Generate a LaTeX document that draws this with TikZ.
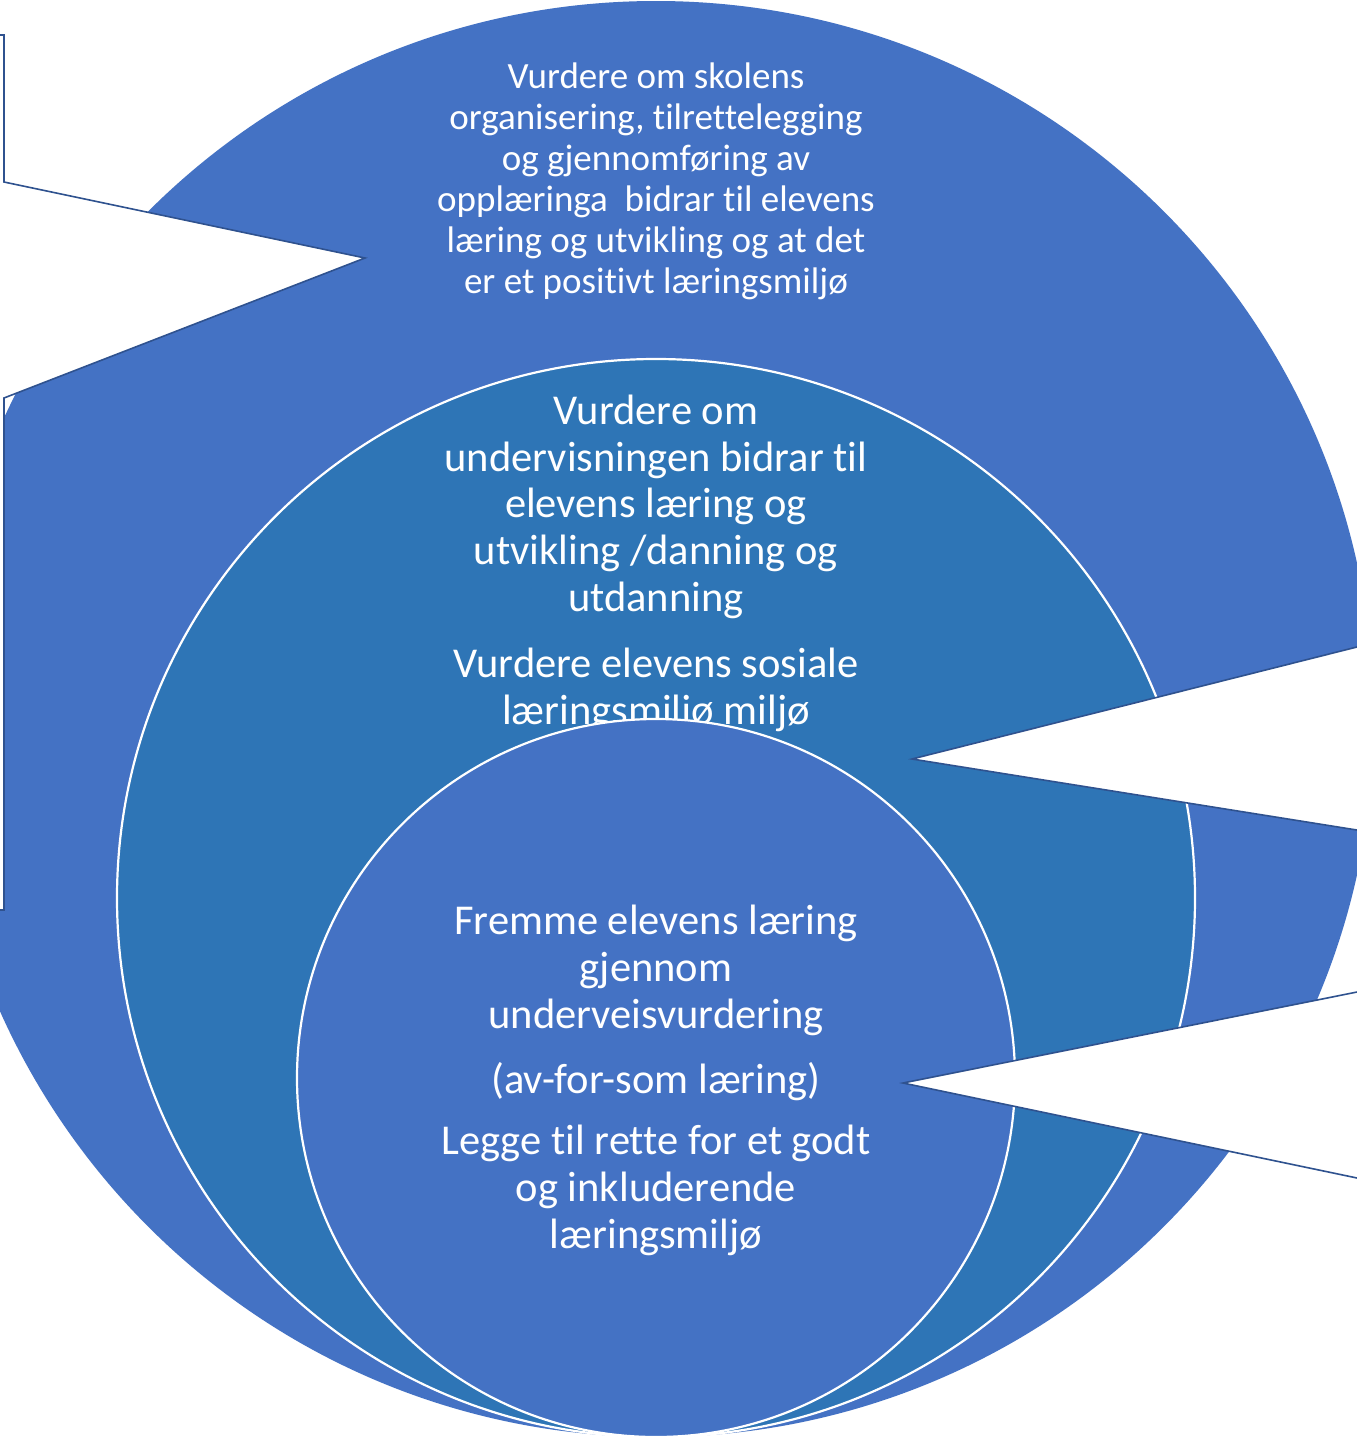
\documentclass[tikz,border=0pt]{standalone}
\usepackage{fontspec}
\setmainfont{Carlito}[Ligatures=NoCommon]
\definecolor{outerblue}{HTML}{4472C4}
\definecolor{midblue}{HTML}{2E75B6}
\definecolor{calloutline}{HTML}{2F528F}
\tikzset{
  ring/.style={circle, inner sep=0pt, outer sep=0pt},
  ringtext/.style={text=white, align=center, inner sep=0pt},
  callout/.style={fill=white, draw=calloutline, line width=1.6pt, line join=miter},
}
\begin{document}
\begin{tikzpicture}[x=1pt,y=-1pt]
\useasboundingbox (0,0) rectangle (1357,1440);
\fill[white] (0,0) rectangle (1357,1440);
\begin{scope}
\clip (0,0) rectangle (1357,1440);
% outer circle
\node[ring, fill=outerblue, minimum size=1436pt] (outer) at (656,719) {};
\node[ringtext, font=\fontsize{37}{41}\selectfont] (outertext) at (656,181.5)
  {Vurdere om skolens\\ organisering, tilrettelegging\\ og gjennomføring av\\ opplæringa\ \ bidrar til elevens\\ læring og utvikling og at det\\ er et positivt læringsmiljø};
% middle circle
\node[ring, fill=midblue, draw=white, line width=2.2pt, minimum size=1078pt] (middle) at (656,898) {};
\node[ringtext, font=\fontsize{42.5}{46.8}\selectfont] (middletext) at (656,563)
  {Vurdere om\\ undervisningen bidrar til\\ elevens læring og\\ utvikling /danning og\\ utdanning\\[19pt] Vurdere elevens sosiale\\ læringsmiljø miljø};
% inner circle
\node[ring, fill=outerblue, draw=white, line width=2.2pt, minimum size=718pt] (inner) at (656,1078) {};
\node[ringtext, font=\fontsize{42.5}{46.8}\selectfont] (innertext) at (656,1080.5)
  {Fremme elevens læring\\ gjennom\\ underveisvurdering\\[18pt] (av-for-som læring)\\[15pt] Legge til rette for et godt\\ og inkluderende\\ læringsmiljø};
% callouts
\coordinate (tipL) at (365,258);
\coordinate (tipR1) at (912,759);
\coordinate (tipR2) at (903,1083);
\draw[callout] (-30,35) -- (4,35) -- (4,182) -- (tipL) -- (4,398) -- (4,910) -- (-30,910) -- cycle;
\draw[callout] (1380,641.2) -- (tipR1) -- (1380,833.7) -- (1420,833.7) -- (1420,641.2) -- cycle;
\draw[callout] (1380,987.4) -- (tipR2) -- (1380,1182.8) -- (1420,1182.8) -- (1420,987.4) -- cycle;
\end{scope}
\end{tikzpicture}
\end{document}
